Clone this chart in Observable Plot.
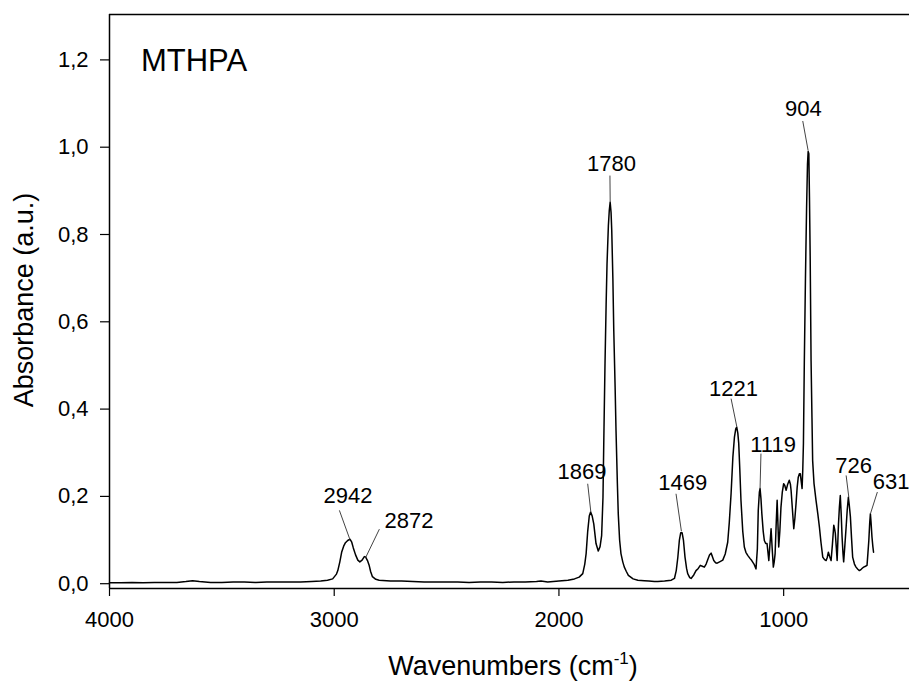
<!DOCTYPE html>
<html><head><meta charset="utf-8">
<script src="https://cdn.jsdelivr.net/npm/d3@7"></script>
<script src="https://cdn.jsdelivr.net/npm/@observablehq/plot@0.6"></script>
<style>body{margin:0;background:#fff;} svg{display:block}</style>
</head><body><div id="chart"></div>
<script>
// Spectrum: wavenumber (cm-1) and absorbance (a.u.)
const wavenumbers = [4000,3950,3900,3850,3800,3750,3700,3660,3630,3600,3550,3500,3450,3400,3350,3300,3250,3200,3150,3100,
3060,3030,3007,2990,2984,2975,2967,2958,2950,2940,2930,2922,2915,2905,2895,2886,2876,2866,2860,2852,2845,2838,2830,2815,2800,
2750,2700,2650,2600,2550,2500,2450,2400,2350,2300,2250,2200,2150,2100,2080,2050,2000,1960,1931,1910,1894,1885,1879,1872,1865,
1859,1852,1845,1835,1825,1817,1810,1804,1800,1795,1790,1786,1780,1776,1772,1768,1765,1760,1756,1750,1746,1740,1736,1730,1724,
1716,1709,1700,1691,1670,1649,1620,1600,1575,1560,1530,1500,1486,1478,1471,1464,1458,1452,1446,1439,1432,1427,1418,1412,1400,
1390,1380,1371,1362,1353,1345,1338,1330,1323,1317,1311,1303,1296,1285,1271,1260,1249,1242,1234,1226,1219,1213,1209,1204,1200,
1195,1190,1182,1175,1168,1160,1150,1142,1132,1123,1117,1113,1108,1105,1101,1097,1091,1086,1080,1074,1066,1061,1056,1051,1046,
1042,1038,1033,1029,1025,1022,1017,1012,1006,1000,995,989,982,975,970,967,961,955,950,945,940,935,930,926,922,918,915,912,908,
903,898,894,891,888,885,882,878,874,871,865,856,848,841,834,826,818,811,806,801,795,789,783,777,773,770,766,762,759,756,752,748,
744,740,736,733,728,722,717,712,708,703,698,693,685,678,670,663,655,649,644,636,629,625,621,617,614,611,607,603,600];
const absorbance = [0.002,0.002,0.003,0.002,0.003,0.003,0.003,0.005,0.007,0.005,0.003,0.003,0.004,0.004,0.003,0.004,0.004,0.004,0.004,0.005,
0.006,0.008,0.011,0.022,0.030,0.050,0.072,0.086,0.094,0.099,0.102,0.095,0.082,0.066,0.054,0.050,0.054,0.062,0.061,0.053,0.043,0.028,0.016,0.010,0.008,
0.006,0.006,0.005,0.004,0.004,0.004,0.004,0.003,0.004,0.004,0.003,0.004,0.004,0.005,0.006,0.004,0.006,0.008,0.011,0.015,0.023,0.045,0.069,0.120,0.155,
0.164,0.155,0.137,0.092,0.075,0.085,0.110,0.198,0.340,0.504,0.640,0.733,0.820,0.855,0.874,0.850,0.809,0.700,0.580,0.450,0.351,0.230,0.160,0.100,0.069,
0.050,0.038,0.028,0.019,0.011,0.008,0.007,0.006,0.005,0.005,0.006,0.008,0.012,0.030,0.060,0.100,0.117,0.117,0.100,0.061,0.035,0.023,0.014,0.012,0.020,
0.030,0.035,0.042,0.040,0.038,0.045,0.055,0.066,0.070,0.062,0.053,0.048,0.047,0.050,0.054,0.068,0.095,0.140,0.206,0.290,0.336,0.355,0.359,0.345,0.322,
0.260,0.191,0.120,0.084,0.072,0.065,0.058,0.053,0.045,0.034,0.080,0.168,0.210,0.218,0.195,0.160,0.120,0.099,0.092,0.092,0.053,0.090,0.126,0.080,0.038,
0.050,0.069,0.140,0.191,0.130,0.084,0.120,0.175,0.210,0.229,0.225,0.214,0.228,0.237,0.228,0.214,0.170,0.126,0.150,0.183,0.220,0.244,0.252,0.252,0.235,0.218,0.260,0.321,0.510,
0.700,0.860,0.960,0.990,0.985,0.880,0.750,0.510,0.380,0.282,0.230,0.191,0.160,0.130,0.095,0.061,0.055,0.053,0.060,0.072,0.062,0.053,0.090,0.134,0.125,0.115,0.085,0.053,0.095,0.137,0.175,0.202,
0.160,0.107,0.070,0.050,0.085,0.130,0.170,0.198,0.180,0.153,0.105,0.061,0.045,0.038,0.033,0.030,0.033,0.036,0.038,0.040,0.042,0.070,0.099,0.140,0.160,0.140,0.107,0.085,0.072];

// Axis ticks
const xTicks = [4000, 3000, 2000, 1000];
const yTicks = [0, 0.2, 0.4, 0.6, 0.8, 1.0, 1.2];

// Peak annotations (label text, label anchor and leader line in data units)
const peakLabels = ["2942", "2872", "1869", "1780", "1469", "1221", "1119", "904", "726", "631"];
const labelW = [2939, 2667, 1897, 1766, 1449, 1223, 1047, 912, 689, 522];
const labelA = [0.184, 0.127, 0.241, 0.945, 0.214, 0.431, 0.301, 1.071, 0.253, 0.218];
const leadW1 = [2977, 2799, 1872, 1773, 1479, 1234, 1101, 915, 722, 583];
const leadA1 = [0.168, 0.125, 0.229, 0.935, 0.206, 0.424, 0.298, 1.060, 0.248, 0.210];
const leadW2 = [2930, 2860, 1858, 1772, 1455, 1209, 1105, 891, 710, 614];
const leadA2 = [0.101, 0.060, 0.164, 0.874, 0.120, 0.361, 0.218, 0.992, 0.198, 0.160];
const sampleName = "MTHPA";

const xDomain = [4000, 440];
const yDomain = [-0.011, 1.304];

const spectrum = wavenumbers.map((w, i) => ({w, a: absorbance[i]}));
const ann = peakLabels.map((t, i) => ({t, w: labelW[i], a: labelA[i], w1: leadW1[i], a1: leadA1[i], w2: leadW2[i], a2: leadA2[i]}));

const font = '"Liberation Sans", Arial, Helvetica, sans-serif';
const svg = Plot.plot({
  width: 909, height: 684,
  marginTop: 14, marginRight: 0, marginBottom: 96, marginLeft: 109,
  style: {fontFamily: font, fontSize: "22px", color: "#000", background: "#fff", overflow: "visible"},
  x: {domain: xDomain},
  y: {domain: yDomain},
  marks: [
    Plot.ruleY([yDomain[1]], {stroke: "#000", strokeWidth: 1.5}),
    Plot.ruleY([yDomain[0]], {stroke: "#000", strokeWidth: 1.5}),
    Plot.ruleX([xDomain[0]], {stroke: "#000", strokeWidth: 1.5}),
    Plot.axisX({ticks: xTicks, tickSize: 8, tickPadding: 15, label: null, tickFormat: d => String(d), strokeWidth: 1.2}),
    Plot.axisY({ticks: yTicks, tickSize: 9, tickPadding: 12, label: null, tickFormat: d => d.toFixed(1).replace(".", ","), strokeWidth: 1.2}),
    Plot.line(spectrum, {x: "w", y: "a", stroke: "#000", strokeWidth: 1.5, curve: "linear"}),
    Plot.link(ann, {x1: "w1", y1: "a1", x2: "w2", y2: "a2", stroke: "#444", strokeWidth: 1}),
    Plot.text(ann, {x: "w", y: "a", text: "t", textAnchor: "middle", lineAnchor: "bottom", fontSize: 22, fill: "#000"}),
    Plot.text([sampleName], {x: 3860, y: 1.174, text: d => d, textAnchor: "start", lineAnchor: "bottom", fontSize: 31, fill: "#000"})
  ]
});

const s = d3.select(svg);
const xl = s.append("text")
  .attr("x", 513).attr("y", 675)
  .attr("text-anchor", "middle")
  .attr("font-size", 27).attr("font-family", font).attr("fill", "#000");
xl.append("tspan").text("Wavenumbers (cm");
xl.append("tspan").attr("font-size", 17).attr("dy", -11).text("-1");
xl.append("tspan").attr("dy", 11).text(")");

s.append("text")
  .attr("transform", "translate(33,300) rotate(-90)")
  .attr("text-anchor", "middle")
  .attr("font-size", 27).attr("font-family", font).attr("fill", "#000")
  .text("Absorbance (a.u.)");

document.getElementById("chart").appendChild(svg);
</script>
</body></html>
